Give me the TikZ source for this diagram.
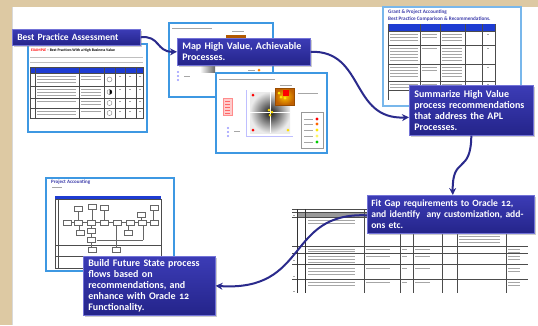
\documentclass[tikz,border=0pt]{standalone}
\usepackage{fontspec}
\setmainfont{Carlito}[Numbers=OldStyle]
\usetikzlibrary{arrows.meta,shadows}

\definecolor{tan}{RGB}{221,201,163}
\definecolor{navy}{RGB}{42,42,140}
\definecolor{boxtop}{RGB}{60,60,182}
\definecolor{boxbottom}{RGB}{36,36,138}
\definecolor{boxedge}{RGB}{115,115,215}
\definecolor{frameblue}{RGB}{62,152,226}
\definecolor{headblue}{RGB}{30,60,210}
\definecolor{titleblue}{RGB}{60,60,170}

\begin{document}
\begin{tikzpicture}[%
    x=1pt, y=-1pt,
    taskbox/.style={
        draw=boxedge,
        line width=0.6pt,
        top color=boxtop,
        bottom color=boxbottom,
        text=white,
        font=\bfseries\fontsize{10}{11}\selectfont,
        align=left,
        anchor=north west,
        inner xsep=5pt,
        inner ysep=3pt,
        drop shadow={opacity=0.4, shadow xshift=1.5pt, shadow yshift=-1.5pt}
        },
    thumb/.style={
        draw=frameblue,
        line width=2pt,
        fill=white,
        anchor=north west,
        inner sep=0pt},
    tinytitle/.style={anchor=west, inner sep=0pt, text=titleblue},
    flow/.style={-{Stealth[length=7pt, width=7pt]}, line width=2pt, navy},
    gridline/.style={black!70, line width=0.3pt},
    greek/.style={black!35, line width=0.5pt},
]

\useasboundingbox (0,0) rectangle (538,325);
\fill[white] (0,0) rectangle (538,325);
\fill[tan] (0,0) rectangle (538,7);
\fill[tan] (0,0) rectangle (12,325);
\draw[black!15] (12.5,7) -- (12.5,325);

% best practice table
\node[thumb, minimum width=119pt, minimum height=88pt] (shotA) at (27,43) {};
\node[tinytitle, text=black, font=\bfseries\fontsize{3.8}{4}\selectfont] (titleA) at (31,50)
    {\textcolor{red}{EXAMPLE} -- Best Practices With a High Business Value};
\draw[black!25] (30,57) -- (143,57) (30,62) -- (143,62);
\fill[headblue] (30,67) rectangle (143,73);
\draw[gridline] (30,67) rectangle (143,118);
\foreach \y in {73,86,98,108} \draw[gridline] (30,\y) -- (143,\y);
\foreach \x in {35,79,104,115,125,136} \draw[gridline] (\x,67) -- (\x,118);
\foreach \y in {76,79,82,89,92,95,101,111,114} \draw[greek] (37,\y) -- (76,\y);
\foreach \y in {76,79,89,92,95,101,104,111} \draw[greek] (81,\y) -- (101,\y);
\foreach \y in {76,89,101,111}
    \foreach \x in {119,129,139} \draw[greek] (\x,\y) -- +(2,0);
\foreach \y in {79.5,92,103,113} \draw[black!60, line width=0.3pt] (109.5,\y) circle (2.5pt);
\fill (109.5,89.5) arc[start angle=90, end angle=-90, radius=2.5pt] -- cycle;

% map, first page
\node[thumb, minimum width=104pt, minimum height=74pt] (shotB) at (168,22) {};
\draw[greek] (172,28) -- (212,28);
\draw[greek] (232,31) -- (244,31);
\fill[orange!70!black] (226,35) rectangle (246,38);
\foreach \y in {72,76,80} \fill[blue!40] (178,\y) circle (1.2pt);
\draw[greek] (184,76) -- (190,76);
\shade[left color=white, right color=black!60] (200,66) rectangle (215,72);
\draw[greek] (248,70) -- (255,70);
\fill[orange] (259,70) circle (1.5pt);

% map, 2 by 2
\node[thumb, minimum width=111pt, minimum height=80pt] (shotC) at (215,72) {};
\draw[greek] (219,79) -- (275,79);
\draw[blue!25] (246,90) -- (246,136) -- (293,136);
\shade[inner color=black!90, outer color=black!8] (250,92) rectangle (290,133);
\draw[white, line width=1pt] (270,92) -- (270,133) (250,112.5) -- (290,112.5);
\shade[inner color=orange!50!yellow, outer color=orange!75!black] (275,88) rectangle (294,105);
\draw[orange!60!black, line width=0.8pt] (275,88) rectangle (294,105);
\fill[red] (283,90) rectangle (289,96);
\foreach \x/\y in {279/93,281/97,285/98} \fill[yellow!90!orange] (\x,\y) circle (1.5pt);
\foreach \x/\y in {269/110,272/112,270/115} \fill[yellow!80!orange] (\x,\y) circle (1.5pt);
\fill[red] (253,95) circle (1.5pt) (253,130) circle (1.5pt);
\fill[yellow!80!orange] (288,130) circle (1.5pt);
\draw[greek] (280,85) -- (292,85) (298,93) -- (318,93);
\fill[red!20] (223,98) rectangle (232,115);
\draw[red!45] (223,98) rectangle (232,115);
\foreach \y in {101,104,107,110,113} \draw[red!60, line width=0.4pt] (225,\y) -- (230,\y);
\foreach \y in {128,132,136} \fill[blue!40] (228,\y) circle (1.2pt);
\draw[greek] (234,131) -- (240,131);
\draw[black!40] (301,112) rectangle (323,148);
\foreach \y/\c in {119/red,124/orange!80!red,130/yellow!90!orange,136/yellow!60,142/green!80!black} {
    \draw[greek] (304,\y) -- (313,\y);
    \fill[\c] (317,\y) circle (1.7pt);
}

% comparison and recommendations
\node[thumb, draw=frameblue!70, minimum width=138pt, minimum height=99pt] (shotD) at (382,6) {};
\node[tinytitle, font=\bfseries\fontsize{5.2}{6}\selectfont] (titleD) at (388,12.5) {Grant \& Project Accounting};
\node[tinytitle, font=\bfseries\fontsize{5.2}{6}\selectfont] (subtitleD) at (388,19.5) {Best Practice Comparison \& Recommendations.};
\fill[headblue] (388,24) rectangle (495,31);
\foreach \y in {31,45,64,81,90} \draw[gridline] (388,\y) -- (495,\y);
\foreach \x in {388,420,440,465,482,495} \draw[gridline] (\x,24) -- (\x,100);
\foreach \y in {34,37,40,48,51,54,57,60,67,70,73,76,84,87} {
    \draw[greek] (390,\y) -- (418,\y);
    \draw[greek] (442,\y) -- (462,\y);
}
\foreach \y in {34,37,48,67,70,84} \draw[greek] (422,\y) -- (437,\y);
\foreach \y in {34,48,67,84} \draw[greek] (487,\y) -- (489,\y);

% future state process flow
\node[thumb, minimum width=128pt, minimum height=93pt] (shotE) at (45,177) {};
\node[tinytitle, font=\bfseries\fontsize{5}{6}\selectfont] (titleE) at (51,182) {Project Accounting};
\draw[greek] (52,187.5) -- (62,187.5);
\fill[headblue] (55,196) rectangle (161,199.5);
\draw[gridline] (55,199.5) rectangle (161,268);
\draw[gridline] (58,199.5) -- (58,268) (55,245) -- (161,245) (55,256) -- (161,256);
\draw[black!60, line width=0.3pt]
    (66,222.5) -- (154,222.5)
    (78,208) -- (78,220) (92,207) -- (92,220) (104,208) -- (104,220)
    (153.5,208) -- (153.5,220) (141,214) -- (141,220)
    (79,225) -- (79,230) (128,225) -- (128,230) (91,225) -- (91,247)
    (116,225) -- (116,247) (97,240) -- (143,240) (143,225) -- (143,240);
\foreach \x/\y in {74/206,88/204,100/205,150/205,137/212,
                   63/220,74/220,87/220,100/220,113/220,126/220,138/220,150/220,
                   76/230,87/228,124/230,87/237,88/247,112/247}
    \draw[black!60, line width=0.3pt, fill=white] (\x,\y) rectangle ++(8,5);

% fit gap sheet
\fill[black!40] (297,212) rectangle (375,217);
\foreach \y in {209,212,217,246,253,264,279} \draw[gridline] (292,\y) -- (528,\y);
\foreach \x in {297,305} \draw[black!80, line width=0.7pt] (\x,209) -- (\x,293);
\foreach \x in {364,400,413,442,457,506} \draw[gridline] (\x,209) -- (\x,293);
\foreach \y in {220,223,249,251,256,259,262,268,271,274,282,285} \draw[greek] (308,\y) -- (355,\y);
\foreach \y in {249,256,268,282} {
    \draw[greek] (366,\y) -- (390,\y);
    \draw[greek] (415,\y) -- (430,\y);
    \draw[greek] (402,\y) -- (407,\y);
}
\foreach \y in {236,239,242} \draw[greek] (459,\y) -- (500,\y);
\foreach \y in {249,252,256,259,268,271,282,285} \draw[greek] (508,\y) -- (520,\y);
\foreach \y in {215,260,276,291} \draw[greek] (293,\y) -- (295,\y);

% steps
\node[taskbox, font=\bfseries\fontsize{9.5}{11}\selectfont, text width=118pt, minimum height=16pt] (best) at (12,29)
    {Best Practice Assessment};
\node[taskbox, text width=123pt, minimum height=27pt] (map) at (177,38)
    {Map High Value, Achievable\\Processes.};
\node[taskbox, text width=114pt, minimum height=50pt] (summ) at (409,85)
    {Summarize High Value\\process recommendations\\that address the APL\\Processes.};
\node[taskbox, font=\bfseries\fontsize{9.6}{11}\selectfont, inner xsep=4pt, text width=159pt, minimum height=38pt] (fitgap) at (367,195)
    {Fit Gap requirements to Oracle 12,\\and identify\ \ any customization, add-\\ons etc.};
\node[taskbox, text width=122pt, minimum height=59pt] (build) at (83,256)
    {Build Future State process\\flows based on\\recommendations, and\\enhance with Oracle 12\\Functionality.};

\draw[flow] (best.east) .. controls (160,35) and (156,52) .. (map.west);
\draw[flow] (map.east) .. controls (365,50) and (350,120) .. ([yshift=-7pt]summ.west);
\draw[flow] (summ.south) .. controls (471,175) and (452,155) .. ([xshift=2pt]fitgap.north);
\draw[flow] ([yshift=-1pt]fitgap.west) .. controls (285,212) and (310,292) .. (build.east);
\end{tikzpicture}
\end{document}
